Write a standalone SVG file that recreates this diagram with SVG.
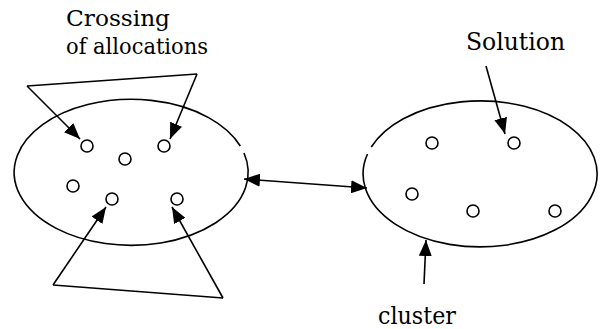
<svg xmlns="http://www.w3.org/2000/svg" width="601" height="329" viewBox="0 0 601 329">
<defs>
<marker id="ah" markerUnits="userSpaceOnUse" markerWidth="16" markerHeight="13" refX="16" refY="6.5" orient="auto-start-reverse">
<path d="M0,0 L16,6.5 L0,13 z" fill="#000"/>
</marker>
</defs>
<style>
.ln{fill:none;stroke:#000;stroke-width:1.6}
.arr{fill:none;stroke:#000;stroke-width:1.6;marker-end:url(#ah)}
.pt{fill:#fff;stroke:#000;stroke-width:1.6}
.t{font-family:"DejaVu Serif","Liberation Serif",serif;font-size:24px;fill:#000}
.t2{font-family:"DejaVu Serif","Liberation Serif",serif;font-size:22px;fill:#000}
</style>
<rect width="601" height="329" fill="#fff"/>
<g id="cluster-left">
<path class="ln" d="M244,153 A117,73 0 1 1 240.3,146"/>
<circle class="pt" cx="87" cy="146" r="6"/>
<circle class="pt" cx="164" cy="146" r="6"/>
<circle class="pt" cx="125" cy="159" r="6"/>
<circle class="pt" cx="73" cy="186" r="6"/>
<circle class="pt" cx="112" cy="199" r="6"/>
<circle class="pt" cx="177" cy="199" r="6"/>
</g>
<g id="cluster-right">
<path class="ln" d="M371.3,147 A117,73 0 1 1 367.5,154"/>
<circle class="pt" cx="432" cy="143" r="6"/>
<circle class="pt" cx="514" cy="143" r="6"/>
<circle class="pt" cx="412" cy="194" r="6"/>
<circle class="pt" cx="473" cy="211" r="6"/>
<circle class="pt" cx="555" cy="211" r="6"/>
</g>
<g id="label-crossing">
<text class="t2" x="66" y="26" textLength="104" lengthAdjust="spacingAndGlyphs">Crossing</text>
<text class="t2" x="66" y="54" textLength="142" lengthAdjust="spacingAndGlyphs">of allocations</text>
</g>
<g id="label-solution">
<text class="t" x="466" y="50" textLength="99" lengthAdjust="spacingAndGlyphs">Solution</text>
</g>
<g id="label-cluster">
<text class="t" x="378" y="324" textLength="78" lengthAdjust="spacingAndGlyphs">cluster</text>
</g>
<g id="connectors">
<polyline class="ln" points="27,86 197,74"/>
<line class="arr" x1="27" y1="86" x2="80" y2="139"/>
<line class="arr" x1="197" y1="74" x2="170" y2="139"/>
<polyline class="ln" points="53,285 223,298"/>
<line class="arr" x1="53" y1="285" x2="106" y2="207"/>
<line class="arr" x1="223" y1="298" x2="172" y2="207"/>
<line class="arr" x1="486" y1="66" x2="505" y2="134"/>
<line class="arr" x1="424" y1="284" x2="426" y2="240"/>
<line class="arr" style="marker-start:url(#ah)" x1="244" y1="179" x2="367" y2="188"/>
</g>
</svg>
